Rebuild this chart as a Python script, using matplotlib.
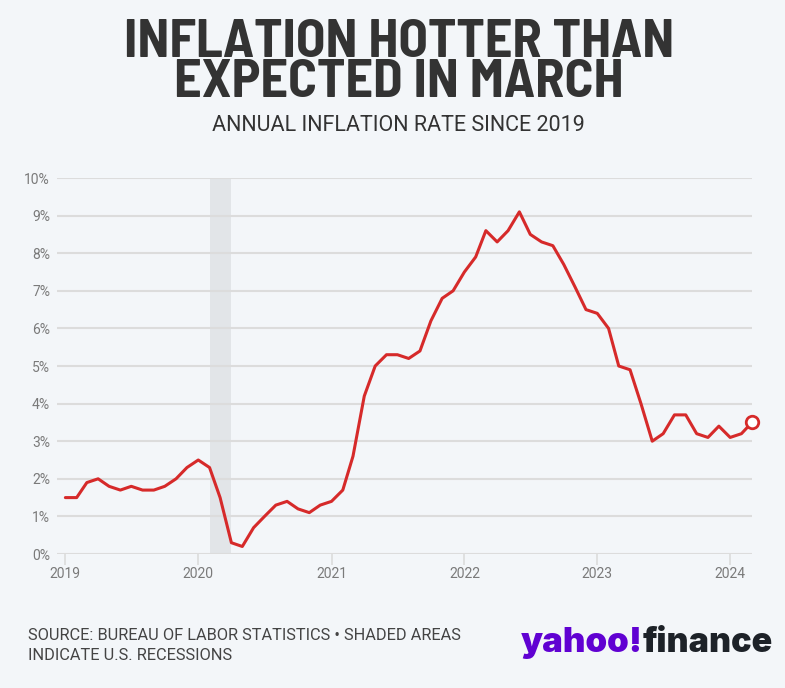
import pandas as pd
import matplotlib.pyplot as plt

# monthly CPI year-over-year, Jan 2019 - Mar 2024
rate_2019 = [1.5, 1.5, 1.9, 2.0, 1.8, 1.7, 1.8, 1.7, 1.7, 1.8, 2.0, 2.3]
rate_2020 = [2.5, 2.3, 1.5, 0.3, 0.2, 0.7, 1.0, 1.3, 1.4, 1.2, 1.1, 1.3]
rate_2021 = [1.4, 1.7, 2.6, 4.2, 5.0, 5.3, 5.3, 5.2, 5.4, 6.2, 6.8, 7.0]
rate_2022 = [7.5, 7.9, 8.6, 8.3, 8.6, 9.1, 8.5, 8.3, 8.2, 7.7, 7.1, 6.5]
rate_2023 = [6.4, 6.0, 5.0, 4.9, 4.0, 3.0, 3.2, 3.7, 3.7, 3.2, 3.1, 3.4]
rate_2024 = [3.1, 3.2, 3.5]
rates = rate_2019 + rate_2020 + rate_2021 + rate_2022 + rate_2023 + rate_2024
months = pd.date_range("2019-01-01", periods=len(rates), freq="MS")

recession_start = "2020-02-01"
recession_end = "2020-04-01"
year_ticks = ["2019", "2020", "2021", "2022", "2023", "2024"]
pct_ticks = list(range(0, 11))

BG = "#f3f6f9"
RED = "#d62a2a"
GRID = "#dcdcdc"
TICK = "#7a7a7a"
condensed = ["Barlow Semi Condensed", "Roboto", "DejaVu Sans"]
plain = ["Roboto", "DejaVu Sans"]

fig = plt.figure(figsize=(7.85, 6.88), dpi=100, facecolor=BG)
ax = fig.add_axes([57 / 785, (688 - 554) / 688, 695 / 785, 376 / 688])
ax.set_facecolor(BG)

ax.axvspan(pd.Timestamp(recession_start), pd.Timestamp(recession_end),
           color="#e2e5e8", zorder=0, lw=0)
for v in pct_ticks:
    ax.axhline(v, color=GRID, lw=1.5, zorder=1)

ax.plot(months, rates, color=RED, lw=2.2, zorder=3,
        solid_joinstyle="round", solid_capstyle="round")
ax.plot(months[-1:], rates[-1:], "o", ms=9, mfc="white", mec=RED, mew=2.0,
        zorder=4, clip_on=False)

ax.set_ylim(0, 10)
ax.set_xlim(pd.Timestamp("2018-12-09"), pd.Timestamp("2024-03-01"))
ax.set_yticks(pct_ticks)
ax.set_yticklabels([f"{v}%" for v in pct_ticks])
ax.set_xticks([pd.Timestamp(y + "-01-01") for y in year_ticks])
ax.set_xticklabels(year_ticks)
ax.tick_params(axis="y", length=0, pad=5, labelsize=10, labelcolor=TICK)
ax.tick_params(axis="x", length=8, width=1.2, color=GRID, pad=1,
               labelsize=10, labelcolor=TICK)
for lab in ax.get_xticklabels() + ax.get_yticklabels():
    lab.set_family(plain)
for s in ax.spines.values():
    s.set_visible(False)

# two-line title as one text block so the lines sit tight together
fig.text(0.508, 1 - 97 / 688, "INFLATION HOTTER THAN\nEXPECTED IN MARCH",
         ha="center", va="baseline", ma="center", linespacing=0.78,
         fontsize=39, fontweight="bold", color="#333333", family=condensed)
fig.text(0.508, 1 - 131 / 688, "ANNUAL INFLATION RATE SINCE 2019",
         ha="center", va="baseline", fontsize=15.5, color="#333333",
         family=plain)

fig.text(28 / 785, 1 - 640 / 688,
         "SOURCE: BUREAU OF LABOR STATISTICS \u2022 SHADED AREAS",
         ha="left", va="baseline", fontsize=11.8, color="#444444",
         family=plain)
fig.text(28 / 785, 1 - 660 / 688, "INDICATE U.S. RECESSIONS",
         ha="left", va="baseline", fontsize=11.8, color="#444444",
         family=plain)

yahoo = fig.text(521 / 785, 1 - 652 / 688, "yahoo!", ha="left",
                 va="baseline", fontsize=25, fontweight="black",
                 color="#6001d2", family="Inter")
fig.canvas.draw()
ax.annotate("finance", xy=(1, 0), xycoords=yahoo, xytext=(0, 0),
            textcoords="offset points", ha="left", va="bottom",
            fontsize=24.5, fontweight="black", color="#1d2228", family="Inter",
            annotation_clip=False)

fig.savefig("out.png", dpi=100, facecolor=BG)
